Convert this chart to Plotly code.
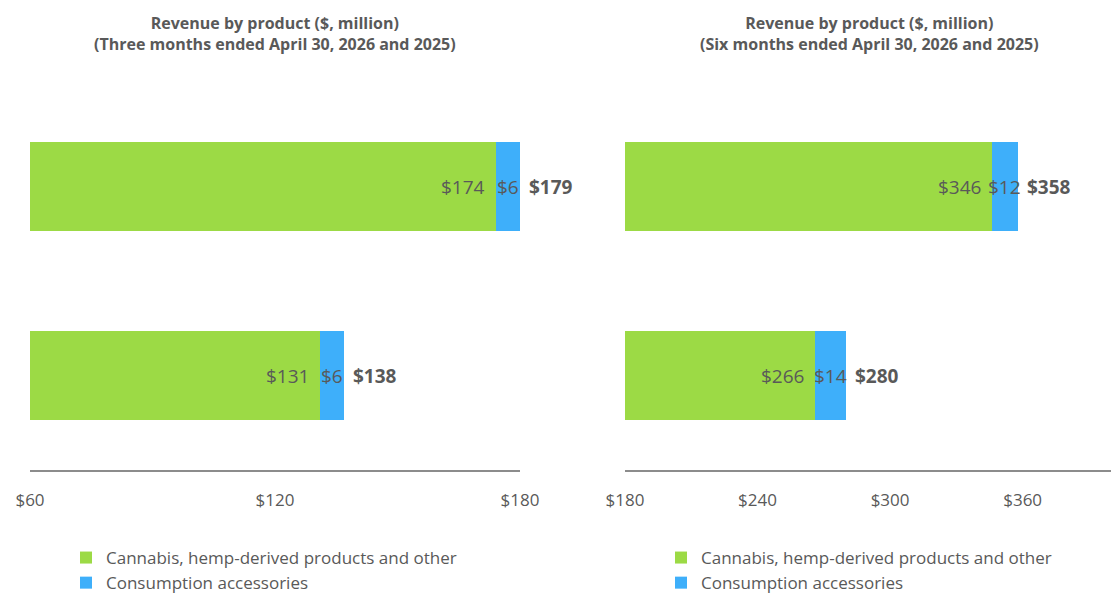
import plotly.graph_objects as go

periods = ["FY2025", "FY2026"]
three_cannabis = [131, 174]
three_access = [6, 6]
three_total = [138, 179]
six_cannabis = [266, 346]
six_access = [14, 12]
six_total = [280, 358]
left_ticks = [60, 120, 180]
right_ticks = [180, 240, 300, 360]
series_names = ["Cannabis, hemp-derived products and other", "Consumption accessories"]
titles = ["Revenue by product (&#36;, million)<br>(Three months ended April 30, 2026 and 2025)",
          "Revenue by product (&#36;, million)<br>(Six months ended April 30, 2026 and 2025)"]

GREEN = "#9CDA45"
BLUE = "#3EAFFA"
GRAY = "#595959"
FONT = "Open Sans"
BW = 0.476
D = "&#36;"

fig = go.Figure()

panels = [
    ("x", "y", "legend", three_cannabis, three_access, three_total),
    ("x2", "y2", "legend2", six_cannabis, six_access, six_total),
]
annotations = []
for xa, ya, lg, cann, acc, tot in panels:
    fig.add_trace(go.Bar(y=periods, x=cann, orientation="h", name=series_names[0],
                         marker=dict(color=GREEN, line=dict(width=0)), width=BW,
                         xaxis=xa, yaxis=ya, legend=lg, hoverinfo="x"))
    fig.add_trace(go.Bar(y=periods, x=acc, orientation="h", name=series_names[1],
                         marker=dict(color=BLUE, line=dict(width=0)), width=BW,
                         xaxis=xa, yaxis=ya, legend=lg, hoverinfo="x"))
    for i, (c, a, t) in enumerate(zip(cann, acc, tot)):
        annotations.append(dict(x=c, y=i, xref=xa, yref=ya, text=f"{D}{c}", showarrow=False,
                                xanchor="right", xshift=-9, font=dict(family=FONT, size=19, color=GRAY)))
        annotations.append(dict(x=c + a / 2, y=i, xref=xa, yref=ya, text=f"{D}{a}", showarrow=False,
                                xanchor="center", font=dict(family=FONT, size=19, color=GRAY)))
        annotations.append(dict(x=c + a, y=i, xref=xa, yref=ya, text=f"<b>{D}{t}</b>", showarrow=False,
                                xanchor="left", xshift=7, font=dict(family=FONT, size=19, color=GRAY)))

annotations.append(dict(x=275 / 1111, y=1 - 33 / 593, xref="paper", yref="paper", text=f"<b>{titles[0]}</b>",
                        showarrow=False, xanchor="center", yanchor="middle",
                        font=dict(family=FONT, size=16, color=GRAY)))
annotations.append(dict(x=870 / 1111, y=1 - 33 / 593, xref="paper", yref="paper", text=f"<b>{titles[1]}</b>",
                        showarrow=False, xanchor="center", yanchor="middle",
                        font=dict(family=FONT, size=16, color=GRAY)))

axis_common = dict(showgrid=False, zeroline=False, showline=True, linecolor="#8C8C8C", linewidth=2,
                   ticks="outside", ticklen=14, tickcolor="rgba(0,0,0,0)", automargin=False,
                   tickfont=dict(family=FONT, size=17, color=GRAY), fixedrange=True)
yaxis_common = dict(type="category", categoryorder="array", categoryarray=periods,
                    range=[-0.5, 1.5], showticklabels=False, showgrid=False, zeroline=False,
                    showline=False, fixedrange=True, automargin=False, domain=[123 / 593, 501 / 593])

fig.update_layout(
    width=1111, height=593,
    margin=dict(l=0, r=0, t=0, b=0, autoexpand=False),
    plot_bgcolor="white", paper_bgcolor="white",
    barmode="stack", bargap=0,
    showlegend=True,
    xaxis=dict(domain=[30 / 1111, 520 / 1111], range=[60, 180], tickvals=left_ticks,
               ticktext=[f"{D}{v}" for v in left_ticks], anchor="y", **axis_common),
    yaxis=dict(anchor="x", **yaxis_common),
    xaxis2=dict(domain=[625 / 1111, 1.0], range=[180, 400], tickvals=right_ticks,
                ticktext=[f"{D}{v}" for v in right_ticks], anchor="y2", **axis_common),
    yaxis2=dict(anchor="x2", **yaxis_common),
    legend=dict(x=66 / 1111, y=1 - 540 / 593, xanchor="left", yanchor="top", orientation="v",
                traceorder="normal",
                font=dict(family=FONT, size=17, color=GRAY), tracegroupgap=0, bgcolor="rgba(0,0,0,0)"),
    legend2=dict(x=661 / 1111, y=1 - 540 / 593, xanchor="left", yanchor="top", orientation="v",
                 traceorder="normal",
                 font=dict(family=FONT, size=17, color=GRAY), tracegroupgap=0, bgcolor="rgba(0,0,0,0)"),
    annotations=annotations,
)

fig.write_html("out.html")
